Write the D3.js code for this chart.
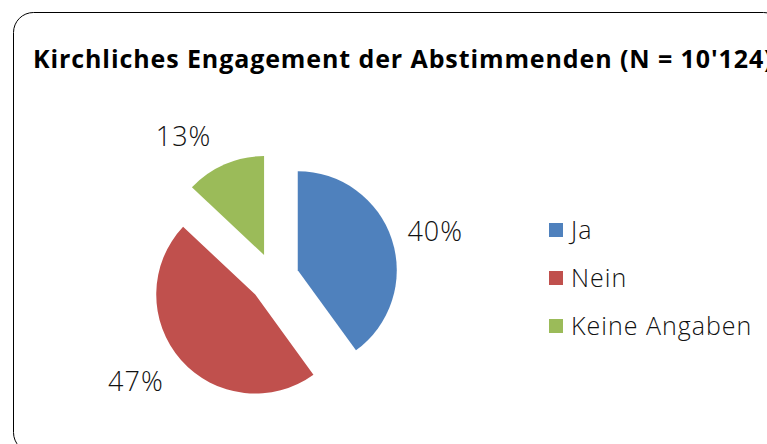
<!DOCTYPE html>
<html>
<head>
<meta charset="utf-8">
<script src="https://cdn.jsdelivr.net/npm/d3@7"></script>
<style>
  html, body { margin: 0; padding: 0; background: #fff; }
  svg { display: block; }
</style>
</head>
<body>
<div id="chart"></div>
<script>
const categories = ["Ja", "Nein", "Keine Angaben"];
const values = [40, 47, 13];
const sliceLabels = ["40%", "47%", "13%"];
const colors = ["#4F81BD", "#C0504D", "#9BBB59"];
const title = "Kirchliches Engagement der Abstimmenden (N = 10'124)";

function drawChart() {
    const width = 767;
    const height = 444;
    const cx = 274;
    const cy = 278;
    const radius = 99;
    const explode = 25;
    const font = "'Open Sans', 'Noto Sans', sans-serif";

    const svg = d3.select("#chart")
        .append("svg")
        .attr("width", width)
        .attr("height", height);

    // frame
    svg.append("rect")
        .attr("x", 13.5)
        .attr("y", 12.5)
        .attr("width", 770)
        .attr("height", 440)
        .attr("rx", 20)
        .attr("fill", "#fff")
        .attr("stroke", "#000")
        .attr("stroke-width", 1);

    svg.append("text")
        .attr("x", 33)
        .attr("y", 68)
        .text(title)
        .style("font-family", font)
        .style("font-weight", "bold")
        .style("font-size", "25px")
        .style("letter-spacing", "0.9px")
        .style("fill", "#000");

    const data = categories.map((c, i) => ({ name: c, value: values[i], label: sliceLabels[i], color: colors[i] }));

    const pie = d3.pie()
        .sort(null)
        .value(d => d.value);

    const arcs = pie(data);

    const arc = d3.arc()
        .innerRadius(0)
        .outerRadius(radius);

    const g = svg.append("g")
        .attr("transform", `translate(${cx},${cy})`);

    const mid = d => (d.startAngle + d.endAngle) / 2;

    const slice = g.selectAll("g.slice")
        .data(arcs)
        .enter()
        .append("g")
        .attr("class", "slice")
        .attr("transform", d => {
            const a = mid(d);
            return `translate(${Math.sin(a) * explode},${-Math.cos(a) * explode})`;
        });

    slice.append("path")
        .attr("d", arc)
        .attr("fill", d => d.data.color);

    const labelR = radius + 11;
    slice.append("text")
        .text(d => d.data.label)
        .attr("x", d => {
            const a = mid(d);
            const s = Math.sin(a);
            return Math.sin(a) * labelR + (s >= 0 ? 5 : -9);
        })
        .attr("y", d => {
            const a = mid(d);
            return -Math.cos(a) * labelR - Math.cos(a) * 20 + 10.5;
        })
        .attr("text-anchor", d => Math.sin(mid(d)) >= 0 ? "start" : "end")
        .style("font-family", font)
        .style("font-weight", 300)
        .style("font-size", "27px")
        .style("letter-spacing", "1px")
        .style("fill", "#111");

    // legend
    const legendY = d3.scaleBand()
        .domain(categories)
        .range([223, 367])
        .padding(0);

    const legend = svg.append("g");

    const item = legend.selectAll("g")
        .data(data)
        .enter()
        .append("g")
        .attr("transform", d => `translate(549,${legendY(d.name)})`);

    item.append("rect")
        .attr("width", 14)
        .attr("height", 14)
        .attr("fill", d => d.color);

    item.append("text")
        .attr("x", 22)
        .attr("y", 16)
        .text(d => d.name)
        .style("font-family", font)
        .style("font-weight", 300)
        .style("font-size", "25px")
        .style("letter-spacing", "1px")
        .style("fill", "#111");
}

drawChart();
</script>
</body>
</html>
